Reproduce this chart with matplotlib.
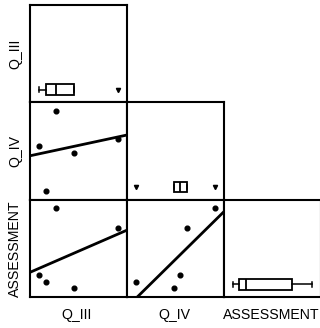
import matplotlib
matplotlib.use("Agg")
import matplotlib.pyplot as plt
import numpy as np

plt.rcParams['font.family'] = ['Liberation Sans', 'DejaVu Sans']

# data: five cases
names = ["Q_III", "Q_IV", "ASSESSMENT"]
q_iii = [27, 89, 10, 45, 17]
q_iv = [9.0, 6.2, 5.5, 4.8, 1.0]
assessment = [100, 80, 33, 20, 26]
columns = [q_iii, q_iv, assessment]

fig = plt.figure(figsize=(3.2, 3.28), dpi=100)

# panel grid in pixels
x0, w = 30, 97
y_top, h = 5, 97.3
W, H = 320, 328


def limits(v, pad=0.11):
    lo, hi = min(v), max(v)
    r = hi - lo
    return lo - pad * r, hi + pad * r


for i in range(3):
    for j in range(i + 1):
        left = (x0 + j * w) / W
        bottom = 1 - (y_top + (i + 1) * h) / H
        ax = fig.add_axes([left, bottom, w / W, h / H])
        ax.set_xticks([])
        ax.set_yticks([])
        for s in ax.spines.values():
            s.set_linewidth(1.5)
        xv = np.array(columns[j], dtype=float)
        ax.set_xlim(*limits(xv))
        if i == j:
            # diagonal: horizontal box plot
            ax.set_ylim(0, 1)
            ax.boxplot(xv, vert=False, positions=[0.13], widths=0.11,
                       patch_artist=True, manage_ticks=False,
                       boxprops=dict(facecolor='white', edgecolor='black', linewidth=1.3),
                       medianprops=dict(color='black', linewidth=1.3),
                       whiskerprops=dict(color='black', linewidth=1.1),
                       capprops=dict(color='black', linewidth=1.1),
                       capwidths=0.05,
                       flierprops=dict(marker='v', markersize=3,
                                       markerfacecolor='black', markeredgecolor='black'))
        else:
            yv = np.array(columns[i], dtype=float)
            ax.set_ylim(*limits(yv))
            ax.plot(xv, yv, 'o', color='black', markersize=3.4)
            b, a = np.polyfit(xv, yv, 1)
            xl = np.array(ax.get_xlim())
            ax.plot(xl, a + b * xl, color='black', linewidth=2)
            ax.set_xlim(*limits(xv))
            ax.set_ylim(*limits(yv))

# variable labels
for k, name in enumerate(names):
    cx = (x0 + (k + 0.5) * w - 1.5) / W
    fig.text(cx, 1 - 315 / H, name, ha='center', va='center', fontsize=10.2)
    cy = 1 - (y_top + (k + 0.5) * h) / H
    fig.text(15 / W, cy, name, ha='center', va='center', rotation=90, fontsize=10.2)

plt.savefig('out.png', dpi=100)
